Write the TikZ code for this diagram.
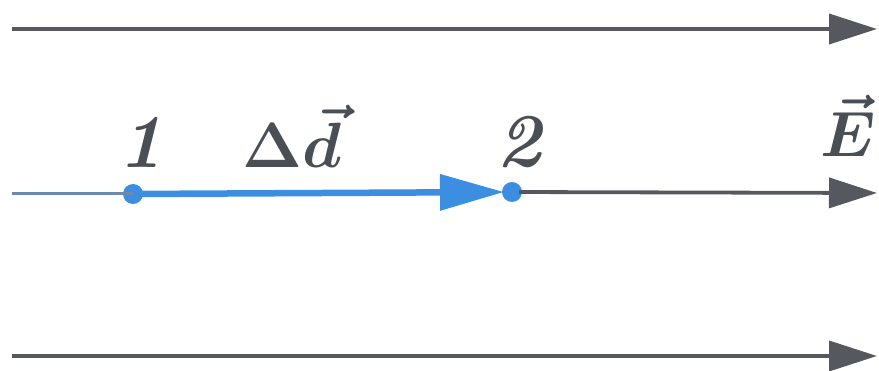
\documentclass[tikz,border=0pt]{standalone}
\usepackage{fix-cm}
\usepackage{amsmath,bm}
\usetikzlibrary{arrows.meta}
\definecolor{fieldgray}{HTML}{55595F}
\definecolor{txtgray}{HTML}{4A4F56}
\definecolor{dblue}{HTML}{3C8EE0}
\definecolor{thinblue}{HTML}{6A8AAE}
\tikzset{
  fieldline/.style={draw=fieldgray, line width=3.8pt, -{Triangle[length=48pt,width=30pt]}},
  dispvec/.style={draw=dblue, line width=6.5pt, -{Triangle[length=64pt,width=35pt]}},
  ptdot/.style={circle, fill=dblue, inner sep=0pt, minimum size=20pt},
  digit/.style={text=txtgray, font=\fontsize{76}{80}\selectfont\bfseries\itshape, anchor=base, inner sep=0pt},
  symlab/.style={text=txtgray, font=\fontsize{64}{70}\selectfont, anchor=base, inner sep=0pt}
}
\begin{document}
\begin{tikzpicture}[x=1pt,y=-1pt]
\useasboundingbox (0,0) rectangle (879,371);
% field lines
\coordinate (ta) at (12,29);
\coordinate (tb) at (877,29);
\coordinate (ba) at (12,356);
\coordinate (bb) at (877,356);
\coordinate (ma) at (12,194);
\coordinate (mb) at (877,193);
\draw[fieldline] (ta) -- (tb);
\draw[fieldline] (ba) -- (bb);
% points
\node[ptdot] (p1) at (133,194) {};
\node[ptdot] (p2) at (512,192) {};
% middle line
\draw[thinblue, line width=3pt] (ma) -- (p1.center);
\draw[fieldline, shorten <=7pt] (p2.center) -- (mb);
\draw[dispvec, shorten >=8pt] (p1.center) -- (p2.center);
% labels
\node[digit] (l1) at (141,168) {1};
\node[digit] (l2) at (519,167) {2};
\node[symlab] (ld) at (292,168) {$\bm{\Delta\vec{d}}$};
\node[symlab] (le) at (848,157) {$\bm{\vec{E}}$};
\end{tikzpicture}
\end{document}
